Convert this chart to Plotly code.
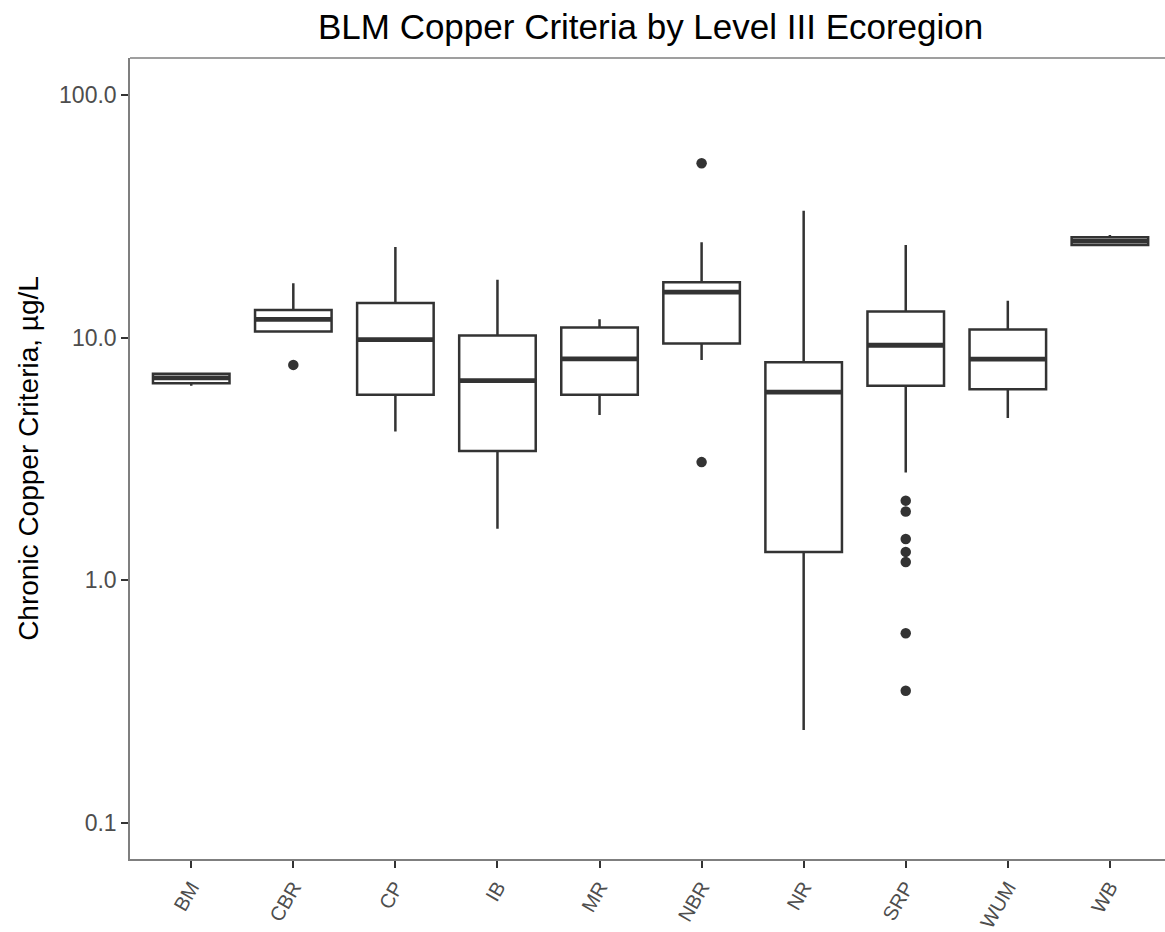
import plotly.graph_objects as go

# Level III ecoregions (x order)
regions = ["BM", "CBR", "CP", "IB", "MR", "NBR", "NR", "SRP", "WUM", "WB"]

# Box statistics of chronic copper criteria (µg/L)
lower_whisker = [6.34, 10.6, 4.10, 1.63, 4.80, 8.09, 0.242, 2.78, 4.66, 23.9]
q1_values     = [6.48, 10.6, 5.81, 3.41, 5.81, 9.46, 1.31, 6.34, 6.13, 24.1]
median_values = [6.82, 11.9, 9.81, 6.65, 8.17, 15.4, 5.96, 9.30, 8.15, 25.0]
q3_values     = [7.09, 13.0, 13.9, 10.2, 11.0, 16.9, 7.92, 12.8, 10.8, 25.9]
upper_whisker = [7.09, 16.75, 23.6, 17.3, 11.9, 24.7, 33.3, 24.1, 14.2, 26.5]

# Outlying observations
outlier_regions = ["CBR", "NBR", "NBR", "SRP", "SRP", "SRP", "SRP", "SRP", "SRP", "SRP"]
outlier_values  = [7.72, 52.3, 3.07, 2.13, 1.92, 1.48, 1.31, 1.19, 0.605, 0.351]

ink = "#333333"

fig = go.Figure()

fig.add_trace(go.Box(
    x=regions,
    q1=q1_values, median=median_values, q3=q3_values,
    lowerfence=lower_whisker, upperfence=upper_whisker,
    fillcolor="white",
    line=dict(color=ink, width=2.5),
    whiskerwidth=0,
    width=0.75,
    boxpoints=False,
    hoverinfo="skip",
    showlegend=False,
))

# Heavier median bar
fig.add_trace(go.Box(
    x=regions,
    q1=median_values, median=median_values, q3=median_values,
    lowerfence=median_values, upperfence=median_values,
    fillcolor="rgba(0,0,0,0)",
    line=dict(color=ink, width=4.8),
    whiskerwidth=0,
    width=0.75,
    boxpoints=False,
    hoverinfo="skip",
    showlegend=False,
))

fig.add_trace(go.Scatter(
    x=outlier_regions, y=outlier_values,
    mode="markers",
    marker=dict(color=ink, size=10.5),
    showlegend=False,
))

font_family = "Liberation Sans, Arial, sans-serif"

fig.update_layout(
    width=1165, height=932,
    margin=dict(l=130, r=0, t=58, b=73),
    paper_bgcolor="white",
    plot_bgcolor="white",
    boxmode="overlay",
    font=dict(family=font_family, color="black"),
    title=dict(
        text="BLM Copper Criteria by Level III Ecoregion",
        x=0.503, xref="paper", xanchor="center",
        y=1 - 27 / 932, yref="container", yanchor="middle",
        font=dict(size=35, color="black", family=font_family),
    ),
    xaxis=dict(
        type="category",
        categoryorder="array", categoryarray=regions,
        range=[-0.6, 9.54],
        automargin=False,
        showgrid=False, zeroline=False,
        showline=True, linecolor="#7f7f7f", linewidth=1.5,
        ticks="outside", ticklen=7, tickwidth=1.5, tickcolor=ink,
        tickangle=-60,
        tickfont=dict(size=20, color="#4d4d4d"),
    ),
    yaxis=dict(
        type="log",
        range=[-1.148, 2.152],
        automargin=False,
        tickvals=[0.1, 1, 10, 100],
        ticktext=["0.1", "1.0", "10.0", "100.0"],
        showgrid=False, zeroline=False,
        showline=True, linecolor="#7f7f7f", linewidth=1.5,
        ticks="outside", ticklen=7, tickwidth=1.5, tickcolor=ink,
        tickfont=dict(size=23, color="#4d4d4d"),
        title=dict(text="Chronic Copper Criteria, µg/L",
                   font=dict(size=28, color="black"), standoff=12),
    ),
    shapes=[dict(type="line", xref="paper", yref="paper",
                 x0=0, x1=1, y0=1, y1=1,
                 line=dict(color="#7f7f7f", width=1.5))],
)

fig.write_html("out.html")
